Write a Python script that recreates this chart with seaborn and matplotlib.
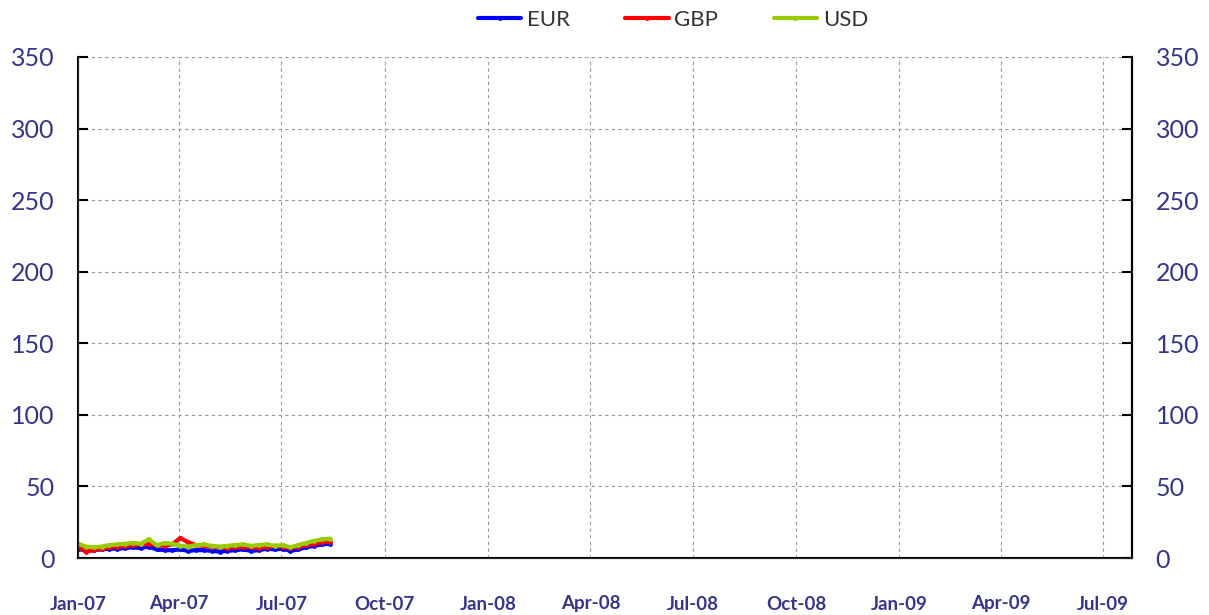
import pandas as pd
import numpy as np
import matplotlib
matplotlib.use('Agg')
import matplotlib.pyplot as plt
import matplotlib.dates as mdates
from matplotlib.lines import Line2D
import seaborn as sns

# weekly readings, Jan-07 to mid Aug-07
dates = pd.date_range('2007-01-01', periods=33, freq='7D')
eur = [6.5, 5.0, 5.5, 6.0, 6.5, 6.5, 7.0, 7.5, 7.0, 8.0, 6.0, 5.5, 5.5, 6.0, 5.0, 5.5, 5.5,
       5.0, 4.5, 5.0, 5.5, 6.0, 5.0, 5.5, 6.5, 6.0, 6.5, 5.0, 6.0, 7.5, 8.5, 9.5, 10.0]
gbp = [8.0, 4.5, 5.5, 6.5, 7.5, 8.0, 8.5, 9.0, 9.5, 10.0, 9.0, 8.5, 9.5, 14.0, 11.0, 9.0, 8.5,
       8.0, 7.5, 7.0, 7.5, 8.0, 7.5, 7.0, 8.0, 8.5, 8.0, 7.0, 8.0, 9.0, 10.0, 11.0, 11.5]
usd = [10.0, 8.0, 7.5, 8.0, 9.0, 9.5, 10.0, 10.5, 10.0, 13.0, 9.0, 10.5, 10.0, 8.5, 8.0, 9.0, 9.5,
       8.5, 8.0, 8.5, 9.0, 9.5, 8.5, 9.0, 9.5, 8.5, 9.0, 7.5, 9.0, 10.5, 12.0, 13.0, 13.5]
currencies = ['EUR', 'GBP', 'USD']
colors = {'EUR': '#0000ff', 'GBP': '#ff0000', 'USD': '#99cc00'}
yticks = [0, 50, 100, 150, 200, 250, 300, 350]

df = pd.DataFrame({'date': list(dates) * 3,
                   'value': eur + gbp + usd,
                   'ccy': [c for c in currencies for _ in range(len(dates))]})

sns.set_style('white')
plt.rcParams['font.family'] = ['Lato', 'DejaVu Sans']

fig = plt.figure(figsize=(12.09, 6.15), dpi=100)
ax = fig.add_axes([78/1209, 1-558/615, (1132-78)/1209, (558-57)/615])

sns.lineplot(data=df, x='date', y='value', hue='ccy', palette=colors, hue_order=currencies,
             linewidth=3, marker='o', markersize=3.5, markeredgewidth=0, legend=False, ax=ax)

ax.set_ylim(0, 350)
ax.set_xlim(pd.Timestamp('2007-01-01'), pd.Timestamp('2009-07-27'))
ax.set_yticks(yticks)
ax.xaxis.set_major_locator(mdates.MonthLocator(bymonth=[1, 4, 7, 10]))
ax.xaxis.set_major_formatter(mdates.DateFormatter('%b-%y'))
ax.set_xlabel('')
ax.set_ylabel('')
ax.grid(True, color='#999999', linestyle=(0, (3, 3)), linewidth=0.8)

for s in ['left', 'right', 'bottom']:
    ax.spines[s].set_visible(True)
    ax.spines[s].set_color('black')
    ax.spines[s].set_linewidth(1.5)
ax.spines['top'].set_visible(False)

ax.tick_params(axis='y', direction='in', length=7, width=1.5, colors='black',
               labelcolor='#35358a', labelsize=18, pad=17)
ax.tick_params(axis='x', direction='out', length=5, width=1.5, colors='black',
               labelcolor='#35358a', labelsize=13.5, pad=22)
for lab in ax.get_xticklabels():
    lab.set_fontweight('bold')

ax2 = ax.twinx()
ax2.set_ylim(0, 350)
ax2.set_yticks(yticks)
ax2.spines['top'].set_visible(False)
ax2.spines['right'].set_linewidth(1.5)
ax2.spines['right'].set_color('black')
ax2.tick_params(axis='y', direction='in', length=7, width=1.5, colors='black',
                labelcolor='#35358a', labelsize=18, pad=17)

handles = [Line2D([0], [0], color=colors[c], linewidth=3, marker='o', markersize=3.5,
                  markeredgewidth=0) for c in currencies]
leg = fig.legend(handles, currencies, loc='center', bbox_to_anchor=(673/1209, 1-20/615),
                 ncol=3, frameon=False, fontsize=16, handlelength=1.95, handletextpad=0.25,
                 columnspacing=2.5)
for t in leg.get_texts():
    t.set_color('#333333')

fig.savefig('out.png', dpi=100)
